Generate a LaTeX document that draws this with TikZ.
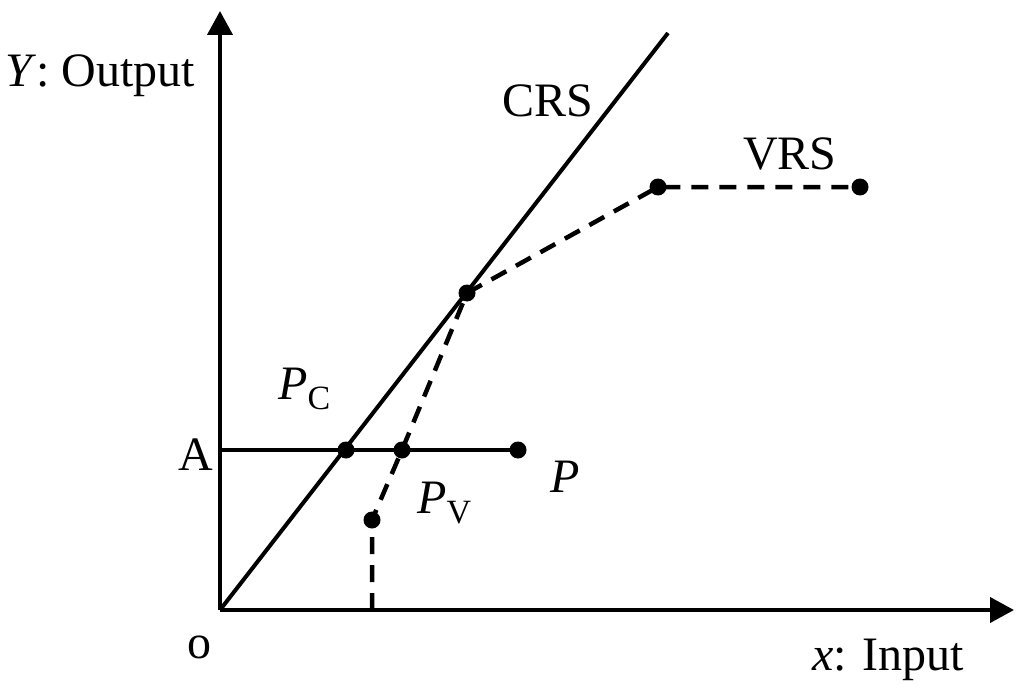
\documentclass[tikz,border=0pt]{standalone}
\usepackage{fontspec}
\setmainfont{Liberation Serif}
\usetikzlibrary{arrows.meta}
\newcommand{\lblsub}[2]{\textit{#1}\raisebox{-0.22em}{\fontsize{34}{40}\selectfont #2}}
\begin{document}
\begin{tikzpicture}[x=1pt,y=-1pt,
  axisln/.style={line width=4pt, -{Triangle[length=24pt,width=25pt]}},
  solidln/.style={line width=4pt},
  dashln/.style={line width=4.5pt, dash pattern=on 17pt off 11pt},
  dotnode/.style={circle, fill=black, inner sep=0pt, minimum size=17pt},
  lbl/.style={font=\fontsize{48}{56}\selectfont, inner sep=0pt, anchor=base west}]
\useasboundingbox (0,0) rectangle (1024,695);
\coordinate (O) at (220,610);
\coordinate (ytip) at (220,11);
\coordinate (xtip) at (1014,610);
\coordinate (crsend) at (668,33);
\coordinate (Aleft) at (220,450);
\coordinate (vbase) at (372,610);
\node[dotnode] (pc) at (346,450) {};
\node[dotnode] (pv) at (402,450) {};
\node[dotnode] (p) at (518,450) {};
\node[dotnode] (v1) at (372,520) {};
\node[dotnode] (v2) at (467,293) {};
\node[dotnode] (v3) at (658,187) {};
\node[dotnode] (v4) at (860,187) {};
\draw[axisln] (O) -- (ytip);
\draw[axisln] (O) -- (xtip);
\draw[solidln] (O) -- (crsend);
\draw[solidln] (Aleft) -- (p.center);
\draw[dashln] (vbase) -- (v1.center) -- (pv.center) -- (v2.center) -- (v3.center) -- (v4.center);
\node[lbl] (ylab) at (5,87) {\textit{Y}: Output};
\node[lbl] (xlab) at (812,670) {\textit{x}: Input};
\node[lbl] (crs) at (502,117) {CRS};
\node[lbl] (vrs) at (743,170) {VRS};
\node[lbl] (alab) at (178,470) {A};
\node[lbl] (olab) at (187,658) {o};
\node[lbl] (plab) at (550,492) {\textit{P}};
\node[lbl] (pclab) at (278,399) {\lblsub{P}{C}};
\node[lbl] (pvlab) at (417,513) {\lblsub{P}{V}};
\end{tikzpicture}
\end{document}
